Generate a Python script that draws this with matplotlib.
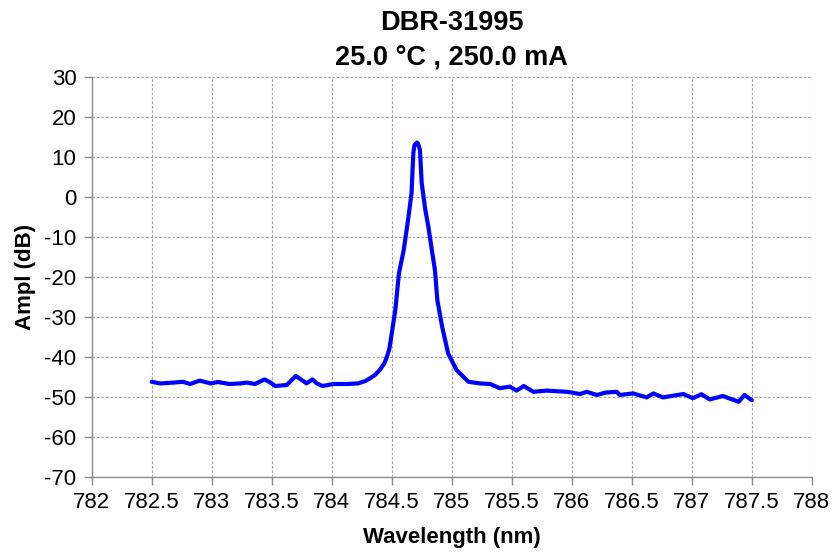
import matplotlib
matplotlib.use("Agg")
import matplotlib.pyplot as plt
import numpy as np

plt.rcParams['font.family'] = ['Liberation Sans', 'DejaVu Sans']

# spectrum
wavelength = [782.50, 782.57, 782.68, 782.76, 782.82, 782.90, 782.99, 783.05, 783.15, 783.24,
              783.29, 783.36, 783.44, 783.49, 783.53, 783.625, 783.70, 783.75, 783.79, 783.84,
              783.875, 783.925, 784.01, 784.125, 784.22, 784.28, 784.32, 784.36, 784.40, 784.44,
              784.46, 784.48, 784.50, 784.53, 784.56, 784.60, 784.64, 784.665, 784.68, 784.69,
              784.71, 784.72, 784.735, 784.75, 784.78, 784.805, 784.83, 784.86, 784.88, 784.92,
              784.97, 785.04, 785.14, 785.236, 785.32, 785.40, 785.485, 785.54, 785.60, 785.68,
              785.79, 785.96, 786.07, 786.125, 786.21, 786.28, 786.375, 786.40, 786.51, 786.625,
              786.68, 786.76, 786.93, 787.01, 787.08, 787.15, 787.26, 787.39, 787.44, 787.50]
ampl = [-46.2, -46.6, -46.4, -46.2, -46.75, -45.9, -46.6, -46.25, -46.75, -46.6,
        -46.4, -46.75, -45.6, -46.4, -47.25, -47.0, -44.75, -45.75, -46.6, -45.6,
        -46.6, -47.25, -46.75, -46.75, -46.6, -46.0, -45.3, -44.5, -43.25, -41.5,
        -39.9, -38.0, -34.1, -28.25, -19.1, -13.25, -4.9, 1.0, 11.0, 13.0,
        13.6, 13.3, 11.75, 3.4, -3.25, -7.4, -12.4, -18.25, -25.75, -32.4,
        -39.1, -43.25, -46.2, -46.6, -46.75, -47.8, -47.4, -48.4, -47.25, -48.7,
        -48.4, -48.7, -49.25, -48.7, -49.5, -48.9, -48.7, -49.5, -49.1, -50.1,
        -49.1, -50.1, -49.25, -50.3, -49.3, -50.6, -49.75, -51.2, -49.5, -50.8]

title_lines = ["DBR-31995", "25.0 \u00b0C , 250.0 mA"]
x_ticks = np.arange(782, 788.01, 0.5)
y_ticks = np.arange(-70, 30.01, 10)

fig = plt.figure(figsize=(8.36, 5.53), dpi=100)
ax = fig.add_axes([0.1097, 0.1374, 0.8613, 0.7234])

ax.plot(wavelength, ampl, color='#0000ff', lw=3.0, solid_joinstyle='round',
        solid_capstyle='round')

ax.set_xlim(782, 788)
ax.set_ylim(-70, 30)
ax.set_xticks(x_ticks)
ax.set_xticklabels(['%g' % t for t in x_ticks])
ax.set_yticks(y_ticks)
ax.set_yticklabels(['%d' % t for t in y_ticks])

ax.grid(True, color='#a6a6a6', linestyle=(0, (2.5, 1.5)), linewidth=0.8)
ax.set_axisbelow(True)
for s in ['top', 'right']:
    ax.spines[s].set_visible(False)
for s in ['left', 'bottom']:
    ax.spines[s].set_color('#8c8c8c')
    ax.spines[s].set_linewidth(1.0)
ax.tick_params(axis='both', direction='out', length=6, width=1.0, color='#8c8c8c',
               labelsize=16, pad=5)

ax.set_xlabel('Wavelength (nm)', fontsize=16, fontweight='bold', labelpad=10)
ax.set_ylabel('Ampl (dB)', fontsize=16, fontweight='bold', labelpad=6)
ax.set_title('\n'.join(title_lines), fontsize=19.5, fontweight='bold', pad=9, linespacing=1.4)

fig.savefig('out.png', dpi=100)
